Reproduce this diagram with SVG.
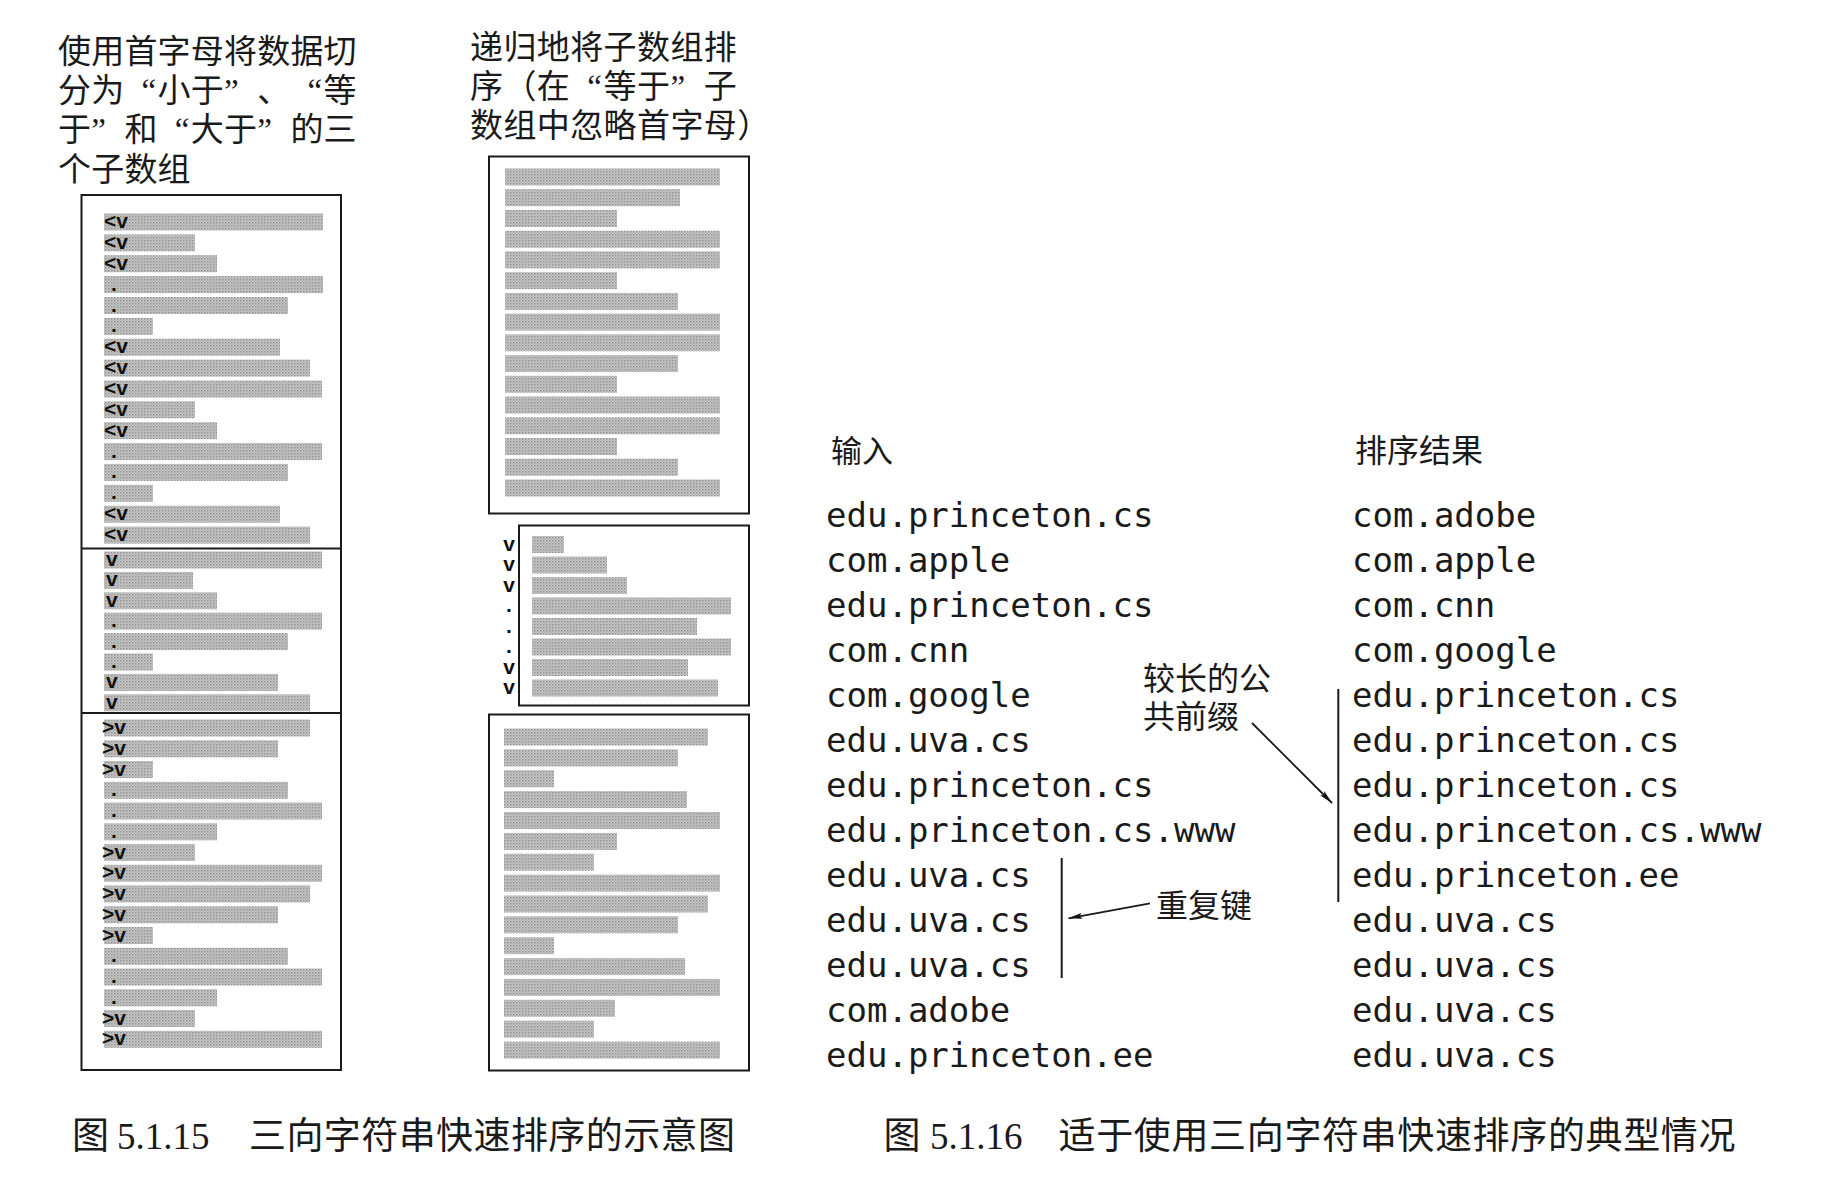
<svg xmlns="http://www.w3.org/2000/svg" width="1830" height="1177" viewBox="0 0 1830 1177">
<defs>
<pattern id="ht" width="3" height="3" patternUnits="userSpaceOnUse"><rect width="3" height="3" fill="#cacaca"/><rect width="1.5" height="1.5" fill="#8e8e8e"/><rect x="1.5" y="1.5" width="1.5" height="1.5" fill="#b0b0b0"/></pattern>
<marker id="ah" viewBox="0 0 14 6" refX="14" refY="3" markerWidth="14" markerHeight="6" markerUnits="userSpaceOnUse" orient="auto"><path d="M0,0 L14,3 L0,6 L3,3 z" fill="#111"/></marker>
</defs>
<style>
.box{fill:none;stroke:#1a1a1a;stroke-width:2}
.bar{fill:url(#ht)}
.lb{font-family:"Liberation Sans",Arial,sans-serif;font-weight:bold;font-size:21px;fill:#111}
.lbm{font-family:"Liberation Sans",Arial,sans-serif;font-weight:bold;font-size:21px;fill:#111;text-anchor:middle}
.hdr{font-family:"Liberation Serif","Noto Sans CJK SC",serif;font-size:33px;fill:#1a1a1a}
.cj{font-family:"Liberation Serif","Noto Sans CJK SC",serif;fill:#1a1a1a}
.mono{font-family:"DejaVu Sans Mono","Liberation Mono",monospace;font-size:34px;fill:#1a1a1a}
.cap{font-family:"Liberation Serif","Noto Sans CJK SC",serif;font-size:37px;fill:#1a1a1a}
.ln{stroke:#1a1a1a;stroke-width:2;fill:none}
.ar{stroke:#1a1a1a;stroke-width:1.8;fill:none;marker-end:url(#ah)}
</style>
<rect width="1830" height="1177" fill="#ffffff"/>

<g id="header-split">
<text class="hdr" x="58 91.2 124.4 157.6 190.8 224 257.2 290.4 323.6" y="63">使用首字母将数据切</text>
<text class="hdr" x="58 91.2 141.5 157.6 190.8 224 257.2 307.5 323.6" y="102">分为“小于”、“等</text>
<text class="hdr" x="58 91.2 124.4 174.7 190.8 224 257.2 290.4 323.6" y="141">于”和“大于”的三</text>
<text class="hdr" x="58 91.2 124.4 157.6" y="181">个子数组</text>
</g>

<g id="header-recurse">
<text class="hdr" x="470 503.4 536.8 570.2 603.6 637 670.4 703.8" y="59">递归地将子数组排</text>
<text class="hdr" x="470 503.4 536.8 587.2 603.6 637 670.4 703.8" y="97.5">序（在“等于”子</text>
<text class="hdr" x="470 503.4 536.8 570.2 603.6 637 670.4 703.8 737.2" y="137">数组中忽略首字母）</text>
</g>

<g id="box-partition">
<rect class="box" x="81.5" y="195" width="259.5" height="875"/>
<line class="ln" x1="81.5" y1="548.5" x2="341" y2="548.5"/>
<line class="ln" x1="81.5" y1="713" x2="341" y2="713"/>
<g id="part-less">
<rect class="bar" x="104" y="213.5" width="219" height="17"/>
<rect class="bar" x="104" y="234.4" width="91" height="17"/>
<rect class="bar" x="104" y="255.2" width="113" height="17"/>
<rect class="bar" x="104" y="276.1" width="219" height="17"/>
<rect class="bar" x="104" y="297" width="184" height="17"/>
<rect class="bar" x="104" y="317.9" width="49" height="17"/>
<rect class="bar" x="104" y="338.7" width="176" height="17"/>
<rect class="bar" x="104" y="359.6" width="206" height="17"/>
<rect class="bar" x="104" y="380.5" width="218" height="17"/>
<rect class="bar" x="104" y="401.3" width="91" height="17"/>
<rect class="bar" x="104" y="422.2" width="113" height="17"/>
<rect class="bar" x="104" y="443.1" width="218" height="17"/>
<rect class="bar" x="104" y="463.9" width="184" height="17"/>
<rect class="bar" x="104" y="484.8" width="49" height="17"/>
<rect class="bar" x="104" y="505.7" width="176" height="17"/>
<rect class="bar" x="104" y="526.6" width="206" height="17"/>
<text class="lb" x="104" y="228">&lt;v</text>
<text class="lb" x="104" y="248.9">&lt;v</text>
<text class="lb" x="104" y="269.7">&lt;v</text>
<text class="lb" x="111" y="290.6">.</text>
<text class="lb" x="111" y="311.5">.</text>
<text class="lb" x="111" y="332.4">.</text>
<text class="lb" x="104" y="353.2">&lt;v</text>
<text class="lb" x="104" y="374.1">&lt;v</text>
<text class="lb" x="104" y="395">&lt;v</text>
<text class="lb" x="104" y="415.8">&lt;v</text>
<text class="lb" x="104" y="436.7">&lt;v</text>
<text class="lb" x="111" y="457.6">.</text>
<text class="lb" x="111" y="478.4">.</text>
<text class="lb" x="111" y="499.3">.</text>
<text class="lb" x="104" y="520.2">&lt;v</text>
<text class="lb" x="104" y="541.1">&lt;v</text>
</g>
<g id="part-equal">
<rect class="bar" x="104" y="551.5" width="218" height="17"/>
<rect class="bar" x="104" y="571.9" width="89" height="17"/>
<rect class="bar" x="104" y="592.3" width="113" height="17"/>
<rect class="bar" x="104" y="612.7" width="218" height="17"/>
<rect class="bar" x="104" y="633.1" width="184" height="17"/>
<rect class="bar" x="104" y="653.5" width="49" height="17"/>
<rect class="bar" x="104" y="673.9" width="174" height="17"/>
<rect class="bar" x="104" y="694.3" width="206" height="17"/>
<text class="lb" x="106" y="566">v</text>
<text class="lb" x="106" y="586.4">v</text>
<text class="lb" x="106" y="606.8">v</text>
<text class="lb" x="111" y="627.2">.</text>
<text class="lb" x="111" y="647.6">.</text>
<text class="lb" x="111" y="668">.</text>
<text class="lb" x="106" y="688.4">v</text>
<text class="lb" x="106" y="708.8">v</text>
</g>
<g id="part-greater">
<rect class="bar" x="104" y="719.5" width="206" height="17"/>
<rect class="bar" x="104" y="740.3" width="174" height="17"/>
<rect class="bar" x="104" y="761" width="49" height="17"/>
<rect class="bar" x="104" y="781.8" width="184" height="17"/>
<rect class="bar" x="104" y="802.5" width="218" height="17"/>
<rect class="bar" x="104" y="823.3" width="113" height="17"/>
<rect class="bar" x="104" y="844" width="91" height="17"/>
<rect class="bar" x="104" y="864.8" width="218" height="17"/>
<rect class="bar" x="104" y="885.5" width="206" height="17"/>
<rect class="bar" x="104" y="906.3" width="174" height="17"/>
<rect class="bar" x="104" y="927" width="49" height="17"/>
<rect class="bar" x="104" y="947.8" width="184" height="17"/>
<rect class="bar" x="104" y="968.5" width="218" height="17"/>
<rect class="bar" x="104" y="989.3" width="113" height="17"/>
<rect class="bar" x="104" y="1010" width="91" height="17"/>
<rect class="bar" x="104" y="1030.8" width="218" height="17"/>
<text class="lb" x="102" y="734">&gt;v</text>
<text class="lb" x="102" y="754.8">&gt;v</text>
<text class="lb" x="102" y="775.5">&gt;v</text>
<text class="lb" x="111" y="796.3">.</text>
<text class="lb" x="111" y="817">.</text>
<text class="lb" x="111" y="837.8">.</text>
<text class="lb" x="102" y="858.5">&gt;v</text>
<text class="lb" x="102" y="879.3">&gt;v</text>
<text class="lb" x="102" y="900">&gt;v</text>
<text class="lb" x="102" y="920.8">&gt;v</text>
<text class="lb" x="102" y="941.5">&gt;v</text>
<text class="lb" x="111" y="962.3">.</text>
<text class="lb" x="111" y="983">.</text>
<text class="lb" x="111" y="1003.8">.</text>
<text class="lb" x="102" y="1024.5">&gt;v</text>
<text class="lb" x="102" y="1045.3">&gt;v</text>
</g>
</g>

<g id="box-less-sorted">
<rect class="box" x="489" y="156.5" width="260" height="357"/>
<rect class="bar" x="505" y="168.5" width="215" height="17"/>
<rect class="bar" x="505" y="189.2" width="175" height="17"/>
<rect class="bar" x="505" y="210" width="112" height="17"/>
<rect class="bar" x="505" y="230.7" width="215" height="17"/>
<rect class="bar" x="505" y="251.4" width="215" height="17"/>
<rect class="bar" x="505" y="272.2" width="112" height="17"/>
<rect class="bar" x="505" y="292.9" width="173" height="17"/>
<rect class="bar" x="505" y="313.6" width="215" height="17"/>
<rect class="bar" x="505" y="334.3" width="215" height="17"/>
<rect class="bar" x="505" y="355.1" width="173" height="17"/>
<rect class="bar" x="505" y="375.8" width="112" height="17"/>
<rect class="bar" x="505" y="396.5" width="215" height="17"/>
<rect class="bar" x="505" y="417.3" width="215" height="17"/>
<rect class="bar" x="505" y="438" width="112" height="17"/>
<rect class="bar" x="505" y="458.7" width="173" height="17"/>
<rect class="bar" x="505" y="479.5" width="215" height="17"/>
</g>

<g id="box-equal-sorted">
<rect class="box" x="519" y="525.5" width="230" height="180"/>
<rect class="bar" x="532" y="536" width="32" height="17"/>
<rect class="bar" x="532" y="556.5" width="75" height="17"/>
<rect class="bar" x="532" y="577" width="95" height="17"/>
<rect class="bar" x="532" y="597.5" width="199" height="17"/>
<rect class="bar" x="532" y="618" width="165" height="17"/>
<rect class="bar" x="532" y="638.5" width="199" height="17"/>
<rect class="bar" x="532" y="659" width="156" height="17"/>
<rect class="bar" x="532" y="679.5" width="186" height="17"/>
<text class="lbm" x="509" y="550.5">v</text>
<text class="lbm" x="509" y="571">v</text>
<text class="lbm" x="509" y="591.5">v</text>
<text class="lbm" x="509" y="612">.</text>
<text class="lbm" x="509" y="632.5">.</text>
<text class="lbm" x="509" y="653">.</text>
<text class="lbm" x="509" y="673.5">v</text>
<text class="lbm" x="509" y="694">v</text>
</g>

<g id="box-greater-sorted">
<rect class="box" x="489" y="714.5" width="260" height="356"/>
<rect class="bar" x="504" y="728.5" width="204" height="17"/>
<rect class="bar" x="504" y="749.4" width="174" height="17"/>
<rect class="bar" x="504" y="770.2" width="50" height="17"/>
<rect class="bar" x="504" y="791.1" width="183" height="17"/>
<rect class="bar" x="504" y="812" width="216" height="17"/>
<rect class="bar" x="504" y="832.9" width="113" height="17"/>
<rect class="bar" x="504" y="853.7" width="90" height="17"/>
<rect class="bar" x="504" y="874.6" width="216" height="17"/>
<rect class="bar" x="504" y="895.5" width="204" height="17"/>
<rect class="bar" x="504" y="916.3" width="174" height="17"/>
<rect class="bar" x="504" y="937.2" width="50" height="17"/>
<rect class="bar" x="504" y="958.1" width="181" height="17"/>
<rect class="bar" x="504" y="978.9" width="216" height="17"/>
<rect class="bar" x="504" y="999.8" width="111" height="17"/>
<rect class="bar" x="504" y="1020.7" width="90" height="17"/>
<rect class="bar" x="504" y="1041.6" width="216" height="17"/>
</g>

<g id="input-list">
<text class="cj" x="831" y="462" font-size="31">输入</text>
<text class="mono" x="826" y="527">edu.princeton.cs</text>
<text class="mono" x="826" y="572">com.apple</text>
<text class="mono" x="826" y="617">edu.princeton.cs</text>
<text class="mono" x="826" y="662">com.cnn</text>
<text class="mono" x="826" y="707">com.google</text>
<text class="mono" x="826" y="752">edu.uva.cs</text>
<text class="mono" x="826" y="797">edu.princeton.cs</text>
<text class="mono" x="826" y="842">edu.princeton.cs.www</text>
<text class="mono" x="826" y="887">edu.uva.cs</text>
<text class="mono" x="826" y="932">edu.uva.cs</text>
<text class="mono" x="826" y="977">edu.uva.cs</text>
<text class="mono" x="826" y="1022">com.adobe</text>
<text class="mono" x="826" y="1067">edu.princeton.ee</text>
</g>

<g id="sorted-list">
<text class="cj" x="1355" y="462" font-size="32">排序结果</text>
<text class="mono" x="1352" y="527">com.adobe</text>
<text class="mono" x="1352" y="572">com.apple</text>
<text class="mono" x="1352" y="617">com.cnn</text>
<text class="mono" x="1352" y="662">com.google</text>
<text class="mono" x="1352" y="707">edu.princeton.cs</text>
<text class="mono" x="1352" y="752">edu.princeton.cs</text>
<text class="mono" x="1352" y="797">edu.princeton.cs</text>
<text class="mono" x="1352" y="842">edu.princeton.cs.www</text>
<text class="mono" x="1352" y="887">edu.princeton.ee</text>
<text class="mono" x="1352" y="932">edu.uva.cs</text>
<text class="mono" x="1352" y="977">edu.uva.cs</text>
<text class="mono" x="1352" y="1022">edu.uva.cs</text>
<text class="mono" x="1352" y="1067">edu.uva.cs</text>
</g>

<g id="label-prefix">
<text class="cj" x="1143" y="689.5" font-size="32">较长的公</text>
<text class="cj" x="1143" y="727.5" font-size="32">共前缀</text>
</g>
<g id="label-dup">
<text class="cj" x="1156" y="916.5" font-size="32">重复键</text>
</g>

<g id="connectors">
<line class="ln" x1="1061.7" y1="858" x2="1061.7" y2="978"/>
<line class="ln" x1="1338.3" y1="689" x2="1338.3" y2="902"/>
<line class="ar" x1="1252" y1="723" x2="1332" y2="803"/>
<line class="ar" x1="1150" y1="903.3" x2="1068.5" y2="918.3"/>
</g>

<g id="captions">
<text class="cap" x="72" y="1149">图</text>
<text class="cap" x="117" y="1149" font-family="Liberation Serif, serif">5.1.15</text>
<text class="cap" x="249" y="1149" textLength="486" lengthAdjust="spacing">三向字符串快速排序的示意图</text>
<text class="cap" x="883.5" y="1149">图</text>
<text class="cap" x="930" y="1149" font-family="Liberation Serif, serif">5.1.16</text>
<text class="cap" x="1058.5" y="1149" textLength="677" lengthAdjust="spacing">适于使用三向字符串快速排序的典型情况</text>
</g>
</svg>
